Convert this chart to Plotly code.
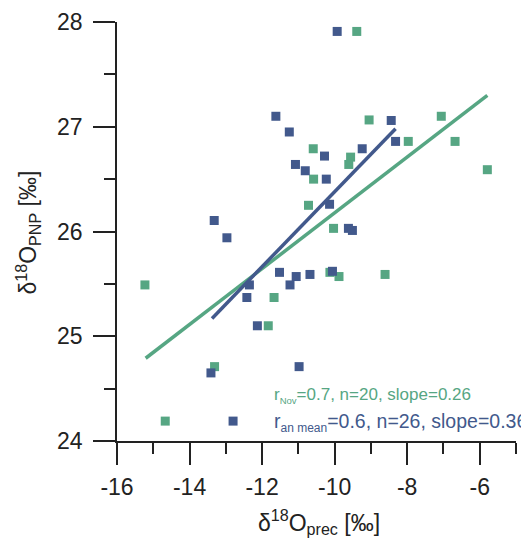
import plotly.graph_objects as go

# November precipitation vs PNP
nov_x = [-9.39, -9.05, -7.06, -7.97, -6.68, -10.59, -9.56, -9.61, -5.79, -10.58,
         -10.72, -10.03, -15.23, -11.67, -10.13, -9.88, -8.61, -11.83, -13.31, -14.67]
nov_y = [27.91, 27.065, 27.10, 26.86, 26.86, 26.79, 26.71, 26.64, 26.59, 26.50,
         26.25, 26.03, 25.49, 25.37, 25.61, 25.57, 25.59, 25.10, 24.71, 24.19]

# annual mean precipitation vs PNP
ann_x = [-9.93, -8.44, -11.62, -11.25, -8.32, -9.24, -10.28, -11.08, -10.81, -10.23,
         -10.14, -13.32, -9.62, -9.51, -12.97, -12.35, -12.42, -11.52, -11.06, -11.23,
         -10.68, -10.06, -12.13, -13.41, -10.98, -12.80]
ann_y = [27.91, 27.06, 27.10, 26.95, 26.86, 26.79, 26.72, 26.64, 26.58, 26.50,
         26.26, 26.105, 26.03, 26.01, 25.94, 25.49, 25.37, 25.61, 25.57, 25.49,
         25.59, 25.62, 25.10, 24.65, 24.71, 24.19]

# regression lines (end points)
nov_fit_x = [-15.21, -5.79]
nov_fit_y = [24.79, 27.30]
ann_fit_x = [-13.38, -8.32]
ann_fit_y = [25.17, 26.98]

x_ticks = [-16, -14, -12, -10, -8, -6]
x_minor = [-15, -13, -11, -9, -7, -5]
y_ticks = [24, 25, 26, 27, 28]
y_minor = [24.5, 25.5, 26.5, 27.5]

GREEN = "#56a683"
BLUE = "#42598c"
INK = "#222"
FONT = "Arial, Liberation Sans, sans-serif"

fig = go.Figure()
fig.add_trace(go.Scatter(x=nov_x, y=nov_y, mode="markers",
                         marker=dict(symbol="square", size=9, color=GREEN),
                         showlegend=False))
fig.add_trace(go.Scatter(x=ann_x, y=ann_y, mode="markers",
                         marker=dict(symbol="square", size=9, color=BLUE),
                         showlegend=False))
fig.add_trace(go.Scatter(x=nov_fit_x, y=nov_fit_y, mode="lines",
                         line=dict(color=GREEN, width=3.5), showlegend=False))
fig.add_trace(go.Scatter(x=ann_fit_x, y=ann_fit_y, mode="lines",
                         line=dict(color=BLUE, width=3.5), showlegend=False))

axis_common = dict(
    showgrid=False, zeroline=False, showline=True, linecolor=INK, linewidth=1.5,
    ticks="outside", ticklen=22, tickwidth=1.5, tickcolor=INK,
    tickfont=dict(family=FONT, size=23, color=INK),
)

fig.update_xaxes(range=[-16, -5], tickvals=x_ticks, ticktext=[str(v) for v in x_ticks],
                 minor=dict(ticks="outside", ticklen=11, tickwidth=1.5, tickcolor=INK,
                            tickvals=x_minor),
                 ticklabelstandoff=3, **axis_common)
fig.update_yaxes(range=[24, 28], tickvals=y_ticks, ticktext=[str(v) for v in y_ticks],
                 minor=dict(ticks="outside", ticklen=11, tickwidth=1.5, tickcolor=INK,
                            tickvals=y_minor),
                 ticklabelstandoff=6, **axis_common)

fig.add_annotation(x=-11.72, y=24.43, xref="x", yref="y", xanchor="left", yanchor="middle",
                   text="r<sub><span style='font-size:9.5px'>Nov</span></sub>=0.7, n=20, slope=0.26",
                   showarrow=False, font=dict(family=FONT, size=17, color=GREEN))
fig.add_annotation(x=-11.72, y=24.18, xref="x", yref="y", xanchor="left", yanchor="middle",
                   text="r<sub><span style='font-size:12px'>an mean</span></sub>=0.6, n=26, slope=0.36",
                   showarrow=False, font=dict(family=FONT, size=19.5, color=BLUE))

W, H = 521, 540
L, R, T, B = 117, 5, 22, 99
pw, ph = W - L - R, H - T - B

# axis titles placed by pixel centre, converted to paper coordinates
fig.add_annotation(x=(319 - L) / pw, y=(H - B - 522) / ph, xref="paper", yref="paper",
                   xanchor="center", yanchor="middle", showarrow=False,
                   text="δ<sup>18</sup>O<sub>prec</sub> [‰]",
                   font=dict(family=FONT, size=23, color=INK))
fig.add_annotation(x=(28 - L) / pw, y=(H - B - 232.5) / ph, xref="paper", yref="paper",
                   xanchor="center", yanchor="middle", textangle=-90, showarrow=False,
                   text="δ<sup>18</sup>O<sub>PNP</sub> [‰]",
                   font=dict(family=FONT, size=23, color=INK))

fig.update_layout(width=W, height=H, margin=dict(l=L, r=R, t=T, b=B),
                  plot_bgcolor="white", paper_bgcolor="white",
                  font=dict(family=FONT, color=INK))

fig.write_html("out.html", config={"displayModeBar": False},
               post_script="document.body.style.margin='0';document.body.style.overflow='hidden';")
